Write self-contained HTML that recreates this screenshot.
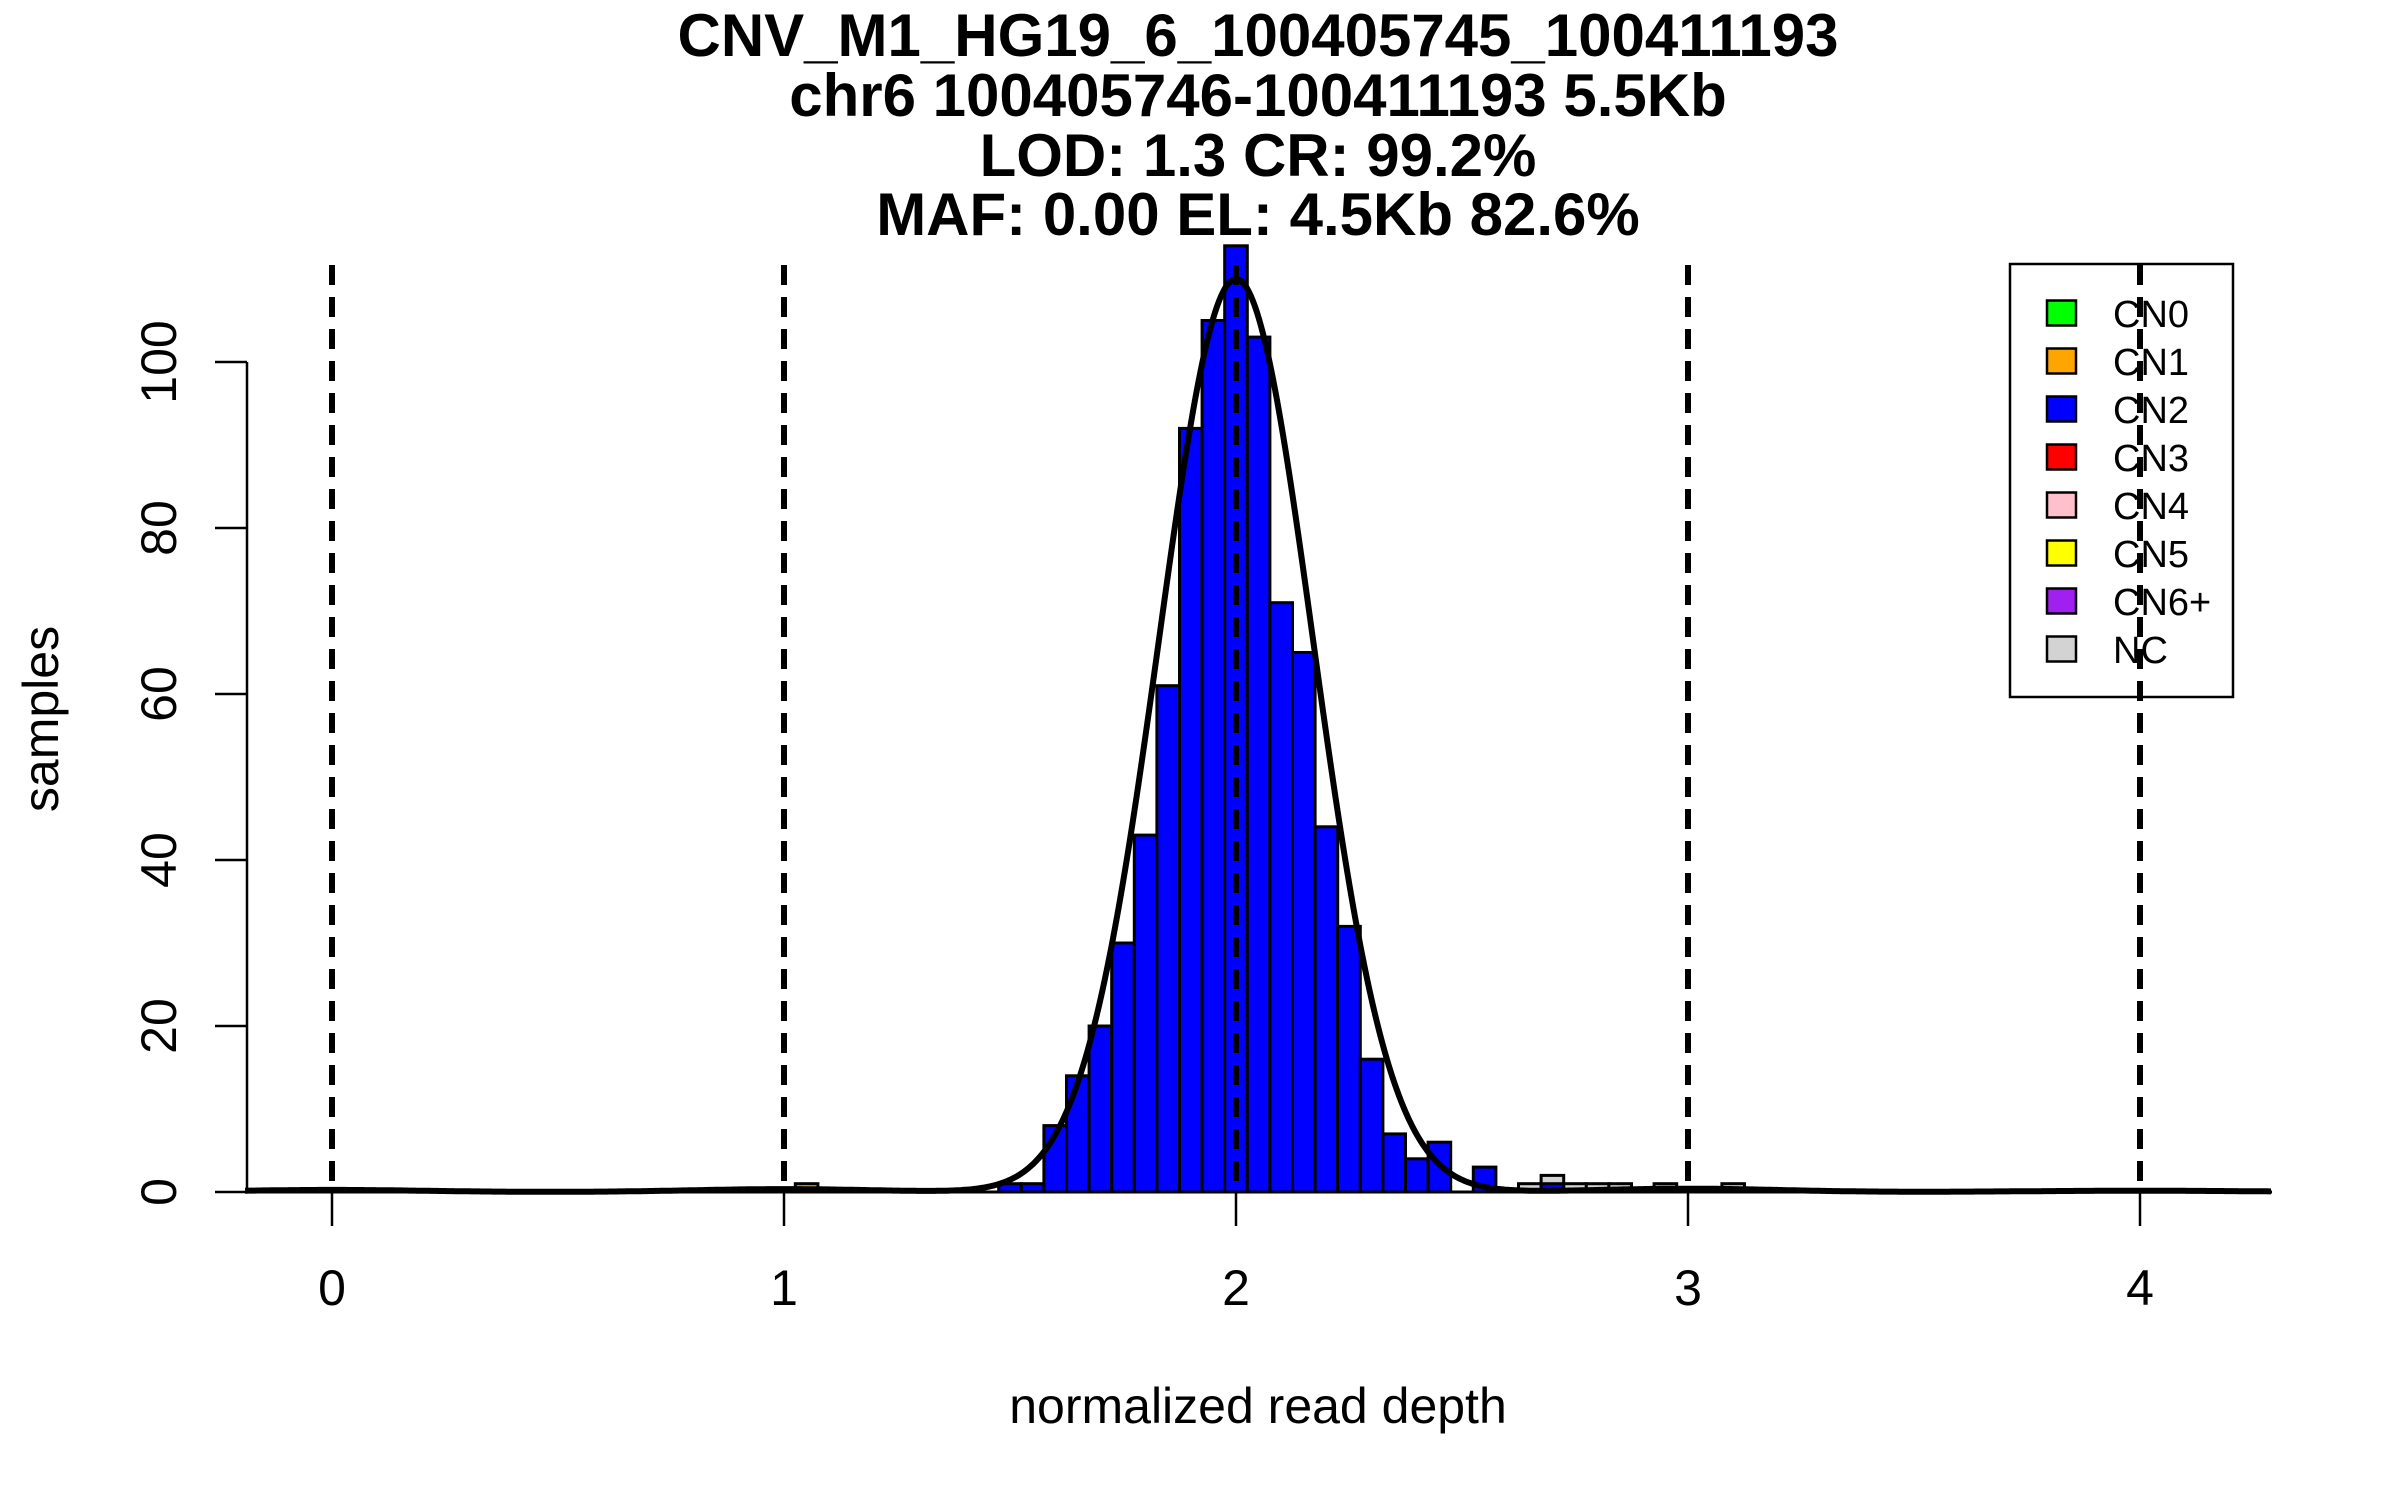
<!DOCTYPE html>
<html><head><meta charset="utf-8"><style>
html,body{margin:0;padding:0;background:#fff;}
svg{display:block;font-family:"Liberation Sans",Arial,sans-serif;}
</style></head><body>
<svg id="chart" width="2400" height="1500" viewBox="0 0 2400 1500" xmlns="http://www.w3.org/2000/svg">
<g font-weight="bold" font-size="60" text-anchor="middle">
<text x="1258" y="56">CNV_M1_HG19_6_100405745_100411193</text>
<text x="1258" y="116">chr6 100405746-100411193 5.5Kb</text>
<text x="1258" y="176">LOD: 1.3 CR: 99.2%</text>
<text x="1258" y="235">MAF: 0.00 EL: 4.5Kb 82.6%</text>
</g>
<text x="1258" y="1423" font-size="50" text-anchor="middle">normalized read depth</text>
<text x="0" y="0" font-size="50" text-anchor="middle" transform="translate(58,719) rotate(-90)">samples</text>
<g id="bars"></g>
<g id="curve"></g>
<g id="dashes"></g>
<g id="axes"></g>
<g id="legend"></g>
</svg>
<script>
// ---- data ----
const cn2Centers = [1.50,1.55,1.60,1.65,1.70,1.75,1.80,1.85,1.90,1.95,2.00,2.05,2.10,2.15,2.20,2.25,2.30,2.35,2.40,2.45,2.55,2.70];
const cn2Counts  = [1,1,8,14,20,30,43,61,92,105,114,103,71,65,44,32,16,7,4,6,3,1];
const cn1Centers = [1.05];
const cn1Counts  = [1];
const ncCenters = [2.65,2.70,2.75,2.80,2.85,2.95,3.10];
const ncCounts  = [1,2,1,1,1,1,1];
const fitMeans   = [0,1,2,3,4];
const fitHeights = [0.25,0.35,110,0.4,0.15];
const fitSds     = [0.2,0.2,0.17,0.2,0.25];
const xTicks = [0,1,2,3,4];
const yTicks = [0,20,40,60,80,100];
const guideLines = [0,1,2,3,4];
const legendLabels = ["CN0","CN1","CN2","CN3","CN4","CN5","CN6+","NC"];
const legendColors = ["#00ff00","#ffa500","#0000ff","#ff0000","#ffc0cb","#ffff00","#a020f0","#d3d3d3"];
const binWidth = 0.05;

const NS="http://www.w3.org/2000/svg";
const X0=332, XU=452, Y0=1192, YU=8.3;
const sx=v=>X0+v*XU, sy=v=>Y0-v*YU;
function mk(tag,attrs,parent){const e=document.createElementNS(NS,tag);for(const k in attrs)e.setAttribute(k,attrs[k]);parent.appendChild(e);return e;}

const gb=document.getElementById('bars');
function drawBars(centers,counts,color,name){
  centers.forEach((c,i)=>{
    const x1=sx(c-binWidth/2), x2=sx(c+binWidth/2), yt=sy(counts[i]);
    const r=mk('rect',{x:x1,y:yt,width:x2-x1,height:Y0-yt,fill:color,stroke:'#000','stroke-width':3},gb);
    
    
  });
}
drawBars(ncCenters,ncCounts,'#d3d3d3','nc-bar');
drawBars(cn1Centers,cn1Counts,'#ffa500','cn1-bar');
drawBars(cn2Centers,cn2Counts,'#0000ff','cn2-bar');

const gc=document.getElementById('curve');
let pts=[];
for(let px=245;px<=2272;px+=2){
  const v=(px-X0)/XU;let y=0;
  fitMeans.forEach((m,i)=>{y+=fitHeights[i]*Math.exp(-0.5*Math.pow((v-m)/fitSds[i],2));});
  pts.push(px+','+sy(y).toFixed(1));
}
const bl=mk('line',{x1:245,y1:Y0,x2:2272,y2:Y0,stroke:'#000','stroke-width':3},gc);


const cp=mk('polyline',{points:pts.join(' '),fill:'none',stroke:'#000','stroke-width':6,'stroke-linejoin':'round'},gc);



const gd=document.getElementById('dashes');
guideLines.forEach(v=>{
  const l=mk('line',{x1:sx(v),y1:265,x2:sx(v),y2:Y0,stroke:'#000','stroke-width':6,'stroke-dasharray':'20 12'},gd);
  
  
});

const ga=document.getElementById('axes');
const ya=mk('line',{x1:247,y1:sy(0),x2:247,y2:sy(100),stroke:'#000','stroke-width':2.5},ga);


yTicks.forEach(t=>{
  const l=mk('line',{x1:215,y1:sy(t),x2:247,y2:sy(t),stroke:'#000','stroke-width':2.5},ga);
  
  
  const tx=mk('text',{x:0,y:0,'font-size':50,'text-anchor':'middle',transform:'translate(176,'+sy(t)+') rotate(-90)'},ga);
  tx.textContent=t;
  
  
});
xTicks.forEach(t=>{
  const l=mk('line',{x1:sx(t),y1:Y0,x2:sx(t),y2:Y0+34,stroke:'#000','stroke-width':2.5},ga);
  
  
  const tx=mk('text',{x:sx(t),y:1305,'font-size':50,'text-anchor':'middle'},ga);
  tx.textContent=t;
  
  
});

const gl=document.getElementById('legend');
const box=mk('rect',{x:2010,y:264,width:223,height:433,fill:'none',stroke:'#000','stroke-width':2.5},gl);


legendLabels.forEach((lab,i)=>{
  const cy=313+i*48;
  const s=mk('rect',{x:2047,y:cy-12.5,width:29,height:25,fill:legendColors[i],stroke:'#000','stroke-width':2.5},gl);
  
  
  const t=mk('text',{x:2113,y:cy+14,'font-size':38},gl);
  t.textContent=lab;
  
  
});
const g4=mk('line',{x1:sx(4),y1:265,x2:sx(4),y2:700,stroke:'#000','stroke-width':6,'stroke-dasharray':'20 12'},gl);


</script>
</body></html>
